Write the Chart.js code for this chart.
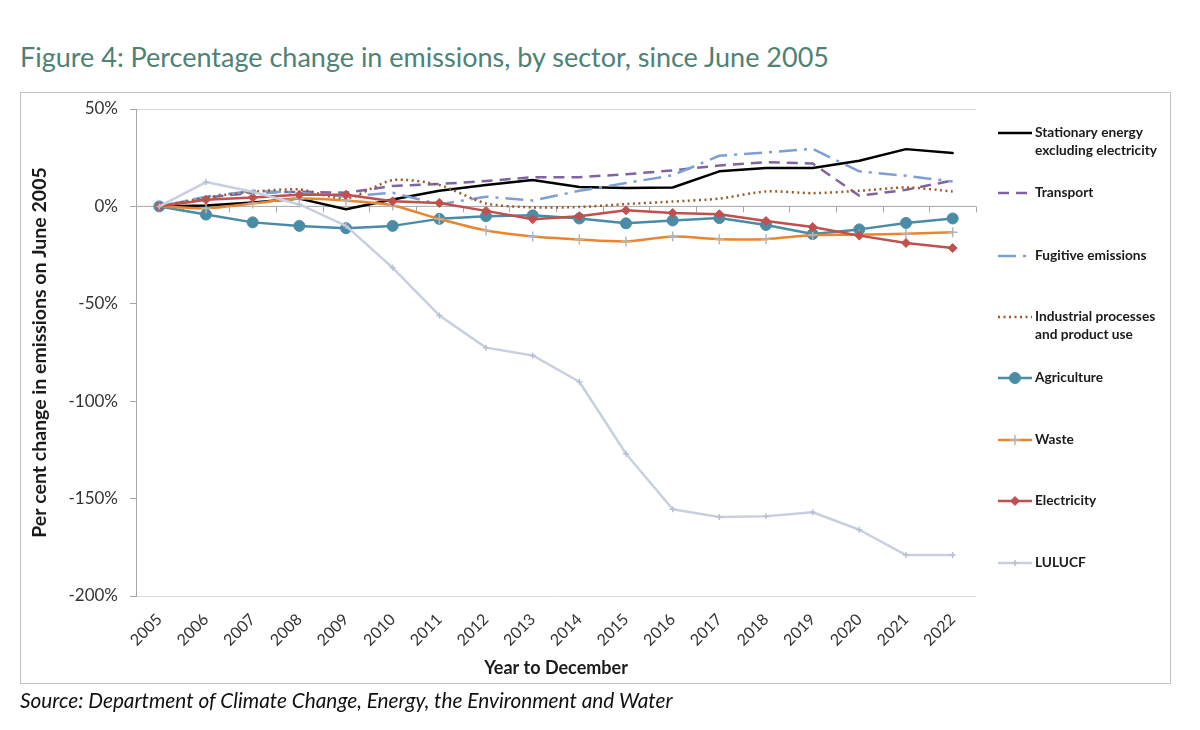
<!DOCTYPE html>
<html>
<head>
<meta charset="utf-8">
<script src="https://cdn.jsdelivr.net/npm/chart.js@4.4.0/dist/chart.umd.min.js"></script>
<style>
  html, body { margin: 0; padding: 0; background: #ffffff; }
  #wrap { position: relative; width: 1200px; height: 730px; overflow: hidden; background: #fff; }
  #title { position: absolute; left: 20px; top: 39px; font-family: Lato, "Open Sans", sans-serif; font-size: 27px; color: #4e8275; white-space: nowrap; line-height: 36px; }
  #box { position: absolute; left: 20px; top: 92px; width: 1149px; height: 590px; border: 1.5px solid #c0c0c0; }
  #source { position: absolute; left: 20px; top: 686px; font-family: Lato, "Open Sans", sans-serif; font-style: italic; font-size: 20.8px; color: #111; white-space: nowrap; line-height: 28px; }
  canvas { position: absolute; left: 0; top: 0; }
</style>
</head>
<body>
<div id="wrap">
  <div id="title">Figure 4: Percentage change in emissions, by sector, since June 2005</div>
  <div id="box"></div>
  <canvas id="c" width="1200" height="730"></canvas>
  <div id="source">Source: Department of Climate Change, Energy, the Environment and Water</div>
</div>
<script>
// ---- Data (percentage change since June 2005) ----
const years = ['2005','2006','2007','2008','2009','2010','2011','2012','2013','2014','2015','2016','2017','2018','2019','2020','2021','2022'];
const stationaryEnergy = [0, 0.5, 2, 4, -1.5, 3.5, 8, 11, 13.5, 10, 9.4, 9.7, 18, 19.7, 19.7, 23.4, 29.4, 27.4];
const transport        = [0, 4.5, 7, 7.5, 7, 10.5, 11.5, 13, 15, 15, 16.5, 18.5, 21, 22.7, 22, 5.5, 8.5, 13.3];
const fugitive         = [0, 5, 8, 7, 5, 7, 1, 5, 3, 8, 12, 16, 26, 27.7, 29.5, 18, 15.7, 12.8];
const industrial       = [0, 4.5, 7.5, 8.7, 4, 13.5, 11, 1.5, -0.5, -0.3, 1.2, 2.5, 4, 7.7, 6.8, 8, 9.7, 7.7];
const agriculture      = [0, -4.2, -8.2, -10, -11.2, -10, -6.4, -5, -4.6, -6.2, -8.7, -7.2, -6, -9.5, -14.2, -11.8, -8.5, -6.2];
const waste            = [0, -1, 1.5, 4, 3, 0.5, -6.5, -12.4, -15.5, -17, -18, -15.5, -16.8, -16.8, -14.7, -14.5, -14, -13.3];
const electricity      = [0, 3.4, 4.6, 6, 6, 2.6, 1.8, -2.3, -6.6, -5, -2, -3.4, -4, -7.5, -10.6, -15, -18.8, -21.4];
const lulucf           = [0, 12.5, 7.5, 1, -10, -31.5, -56, -72.5, -76.5, -90, -127, -155.5, -159.5, -159, -157, -166, -179, -179];

const legendLabels = [
  ['Stationary energy', 'excluding electricity'],
  ['Transport'],
  ['Fugitive emissions'],
  ['Industrial processes', 'and product use'],
  ['Agriculture'],
  ['Waste'],
  ['Electricity'],
  ['LULUCF']
];
const yMin = -200, yMax = 50, yStep = 50;

// ---- Styles ----
const FONT = 'Lato, "Open Sans", sans-serif';
const seriesStyles = [
  { data: stationaryEnergy, color: '#000000', width: 2.5, dash: [], point: false, tension: 0 },
  { data: transport, color: '#8064a2', width: 2.5, dash: [11, 7], point: false, tension: 0 },
  { data: fugitive, color: '#7e9fd3', width: 2.5, dash: [18, 7, 3, 7], point: false, tension: 0 },
  { data: industrial, color: '#9a5a2c', width: 2.5, dash: [2, 3.5], point: false, tension: 0.25 },
  { data: agriculture, color: '#4a8ca6', width: 2.5, dash: [], point: 'circle', pr: 5.5, pc: '#4a8ca6', tension: 0 },
  { data: waste, color: '#ea852f', width: 2.5, dash: [], point: 'cross', pr: 5, pc: '#b5b5b5', tension: 0.25 },
  { data: electricity, color: '#c0504d', width: 2.5, dash: [], point: 'rectRot', pr: 4.5, pc: '#c0504d', tension: 0 },
  { data: lulucf, color: '#c8d0e0', width: 2.5, dash: [], point: 'cross', pr: 3, pc: '#b8c0d2', tension: 0 }
];

const datasets = seriesStyles.map((s, i) => ({
  label: legendLabels[i].join(' '),
  data: s.data,
  borderColor: s.color,
  backgroundColor: s.pc || s.color,
  borderWidth: s.width,
  borderDash: s.dash,
  borderCapStyle: s.dash.length ? 'butt' : 'round',
  borderJoinStyle: 'round',
  tension: s.tension,
  pointStyle: s.point || 'circle',
  pointRadius: s.point ? s.pr : 0,
  pointBorderColor: s.pc || s.color,
  pointBackgroundColor: s.pc || s.color,
  pointBorderWidth: s.point === 'cross' ? 1.5 : 1,
  order: seriesStyles.length - i,
  fill: false
}));

// Zero axis line with tick marks between categories
const zeroAxisPlugin = {
  id: 'zeroAxis',
  beforeDatasetsDraw(chart) {
    const { ctx, chartArea, scales } = chart;
    const y0 = scales.y.getPixelForValue(0);
    ctx.save();
    ctx.strokeStyle = '#a6a6a6';
    ctx.lineWidth = 1;
    ctx.beginPath();
    ctx.moveTo(chartArea.left, y0);
    ctx.lineTo(chartArea.right, y0);
    const n = years.length;
    const w = (chartArea.right - chartArea.left) / n;
    for (let i = 1; i <= n; i++) {
      const x = Math.round(chartArea.left + i * w) + 0.5;
      ctx.moveTo(x, y0);
      ctx.lineTo(x, y0 + 6);
    }
    ctx.stroke();
    ctx.restore();
  }
};

// Custom legend on the right
const legendYs = [133, 193, 256, 317, 378, 440, 501, 563];
const sideLegendPlugin = {
  id: 'sideLegend',
  afterDraw(chart) {
    const { ctx } = chart;
    const x0 = 998, x1 = 1032, tx = 1035;
    ctx.save();
    chart.data.datasets.forEach((ds, i) => {
      const y = legendYs[i];
      ctx.save();
      ctx.strokeStyle = ds.borderColor;
      ctx.lineWidth = ds.borderWidth;
      ctx.setLineDash(ds.borderDash || []);
      ctx.lineCap = 'butt';
      ctx.beginPath();
      ctx.moveTo(x0, y);
      ctx.lineTo(x1, y);
      ctx.stroke();
      ctx.restore();
      if (ds.pointRadius > 0) {
        ctx.save();
        ctx.fillStyle = ds.pointBackgroundColor;
        ctx.strokeStyle = ds.pointBorderColor;
        ctx.lineWidth = ds.pointBorderWidth;
        Chart.helpers.drawPoint(ctx, { pointStyle: ds.pointStyle, radius: ds.pointRadius, rotation: 0, borderWidth: ds.pointBorderWidth }, (x0 + x1) / 2, y);
        ctx.restore();
      }
      ctx.fillStyle = '#1a1a1a';
      ctx.font = 'bold 13.7px ' + FONT;
      ctx.textBaseline = 'middle';
      ctx.textAlign = 'left';
      legendLabels[i].forEach((line, k) => ctx.fillText(line, tx, y + k * 18));
    });
    ctx.restore();
  }
};

new Chart(document.getElementById('c'), {
  type: 'line',
  data: { labels: years, datasets },
  plugins: [zeroAxisPlugin, sideLegendPlugin],
  options: {
    responsive: false,
    animation: false,
    layout: { padding: { top: 109, left: 20, right: 224, bottom: 47 } },
    plugins: { legend: { display: false }, tooltip: { enabled: false }, title: { display: false } },
    scales: {
      x: {
        type: 'category',
        offset: true,
        grid: { display: false, drawTicks: false },
        border: { display: false },
        ticks: { color: '#333', font: { family: FONT, size: 16 }, minRotation: 45, maxRotation: 45, padding: 14, autoSkip: false },
        title: { display: true, text: 'Year to December', color: '#1a1a1a', font: { family: FONT, size: 18, weight: 'bold' }, padding: { top: 0, bottom: 4 } },
        afterFit(s) { s.height = 87; }
      },
      y: {
        min: yMin, max: yMax,
        ticks: { stepSize: yStep, color: '#333', font: { family: FONT, size: 17 }, padding: 12, callback: v => v + '%' },
        grid: {
          color: c => (c.tick && (c.tick.value === yMax || c.tick.value === yMin)) ? '#d9d9d9' : 'rgba(0,0,0,0)',
          tickColor: '#a6a6a6',
          tickLength: 6,
          lineWidth: 1
        },
        border: { display: true, color: '#a6a6a6', width: 1 },
        title: { display: true, text: 'Per cent change in emissions on June 2005', color: '#1a1a1a', font: { family: FONT, size: 19.5, weight: 'bold' }, padding: { top: 8, bottom: 0 } },
        afterFit(s) { s.width = 116; }
      }
    }
  }
});
</script>
</body>
</html>
